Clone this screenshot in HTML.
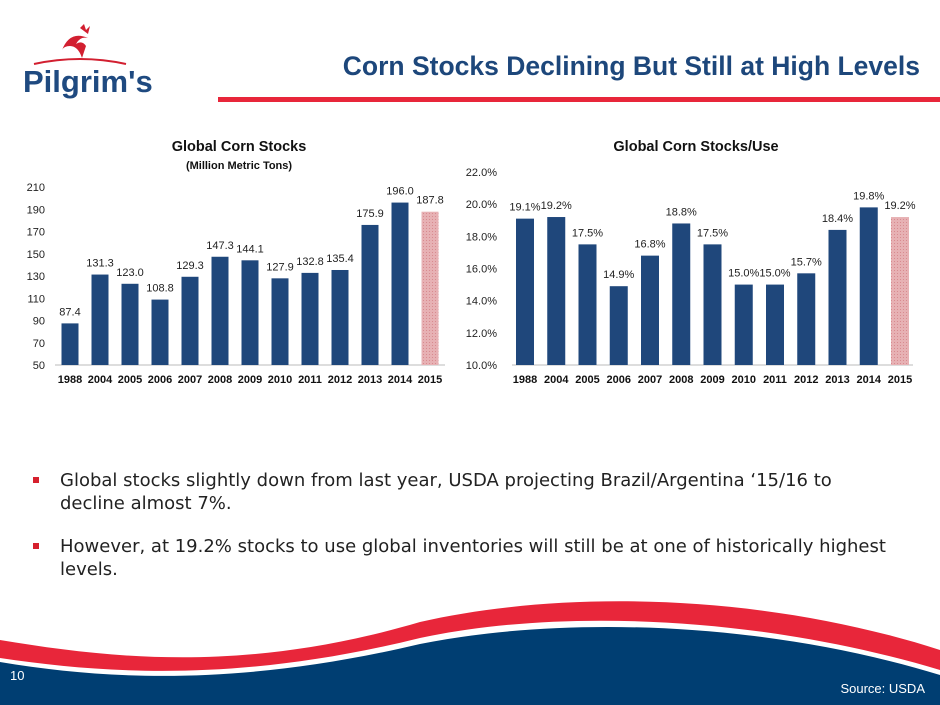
<!DOCTYPE html>
<html><head><meta charset="utf-8"><style>
html,body{margin:0;padding:0;background:#fff}
body{width:940px;height:705px;overflow:hidden;position:relative;font-family:"Liberation Sans",sans-serif}
svg{position:absolute;left:0;top:0}
.b{position:absolute;left:60px;width:870px;white-space:nowrap;font-family:"DejaVu Sans","Liberation Sans",sans-serif;font-size:18px;line-height:23px;color:#222}
.sq{position:absolute;left:-27px;top:8px;width:6px;height:6px;background:#d6202e}
</style></head><body>
<svg width="940" height="705">
 <defs>
  <pattern id="hatch" width="3" height="3" patternUnits="userSpaceOnUse"><rect width="3" height="3" fill="#e7b1b4"/><rect width="1" height="1" fill="#d88a8f"/></pattern>
 </defs>
 <g>
  <path d="M62,50 Q70,30 88,38 Q80,36 76,44 Q82,40 86,46 L82,58 Q78,46 70,46 Q64,46 62,50Z" fill="#d21f30"/>
  <path d="M80,28 L84,24 L86,30 L90,26 L88,34Z" fill="#d21f30"/>
  <path d="M34,64 Q80,54 126,64" stroke="#d21f30" stroke-width="2" fill="none"/>
  <text x="23" y="92" font-family="Liberation Sans,sans-serif" font-weight="bold" font-size="31" fill="#1f4a80">Pilgrim's</text>
 </g>
 <text x="920" y="75" text-anchor="end" font-weight="bold" font-size="26.5" fill="#1d477b">Corn Stocks Declining But Still at High Levels</text>
 <rect x="218" y="97" width="722" height="5" fill="#e8263a"/>
 <g id="c1"></g>
 <g id="c2"></g>
 <g>
  <path d="M0,640 C120,660 250,672 420,622 C560,590 760,592 940,650 L940,705 L0,705Z" fill="#e8263a"/>
  <path d="M0,658 C120,676 250,680 420,638 C560,608 760,616 940,670 L940,705 L0,705Z" fill="#fff"/>
  <path d="M0,662 C120,682 250,684 420,644 C560,616 760,620 940,675 L940,705 L0,705Z" fill="#003e72"/>
 </g>
 <text x="10" y="680" font-size="13" fill="#fff">10</text>
 <text x="925" y="693" text-anchor="end" font-size="13" fill="#fff">Source:  USDA</text>
</svg>
<div class="b" style="top:469px"><span class="sq"></span>Global stocks slightly down from last year, USDA projecting Brazil/Argentina ‘15/16 to<br>decline almost 7%.</div>
<div class="b" style="top:535px"><span class="sq"></span>However, at 19.2% stocks to use global inventories will still be at one of historically highest<br>levels.</div>
<script>
const years=["1988","2004","2005","2006","2007","2008","2009","2010","2011","2012","2013","2014","2015"];
const stocks=[87.4,131.3,123.0,108.8,129.3,147.3,144.1,127.9,132.8,135.4,175.9,196.0,187.8];
const stockLabels=["87.4","131.3","123.0","108.8","129.3","147.3","144.1","127.9","132.8","135.4","175.9","196.0","187.8"];
const stockTicks=[50,70,90,110,130,150,170,190,210];
const ratio=[19.1,19.2,17.5,14.9,16.8,18.8,17.5,15.0,15.0,15.7,18.4,19.8,19.2];
const ratioTicks=[10,12,14,16,18,20,22];
const NS="http://www.w3.org/2000/svg";
function mk(p,t,a,txt){const e=document.createElementNS(NS,t);for(const k in a)e.setAttribute(k,a[k]);if(txt!=null)e.textContent=txt;p.appendChild(e);return e;}
function chart(g,o){
 const y=v=>o.y0-(v-o.vmin)/(o.vmax-o.vmin)*(o.y0-o.y1);
 const x=i=>o.x0+i*o.step;
 let t=mk(g,'text',{x:o.tx,y:o.ty,'text-anchor':'middle','font-weight':'bold','font-size':14.5,fill:'#111'},o.title);
 
 
 if(o.sub){t=mk(g,'text',{x:o.tx,y:o.ty+18,'text-anchor':'middle','font-weight':'bold','font-size':11,fill:'#111'},o.sub);
 
 }
 o.ticks.forEach(v=>{const e=mk(g,'text',{x:o.lx,y:y(v)+4,'text-anchor':'end','font-size':11,fill:'#222'},o.fmt(v));
 
 });
 const ax=mk(g,'line',{x1:o.ax0,x2:o.ax1,y1:o.y0,y2:o.y0,stroke:'#bbb','stroke-width':1});
 
 
 o.vals.forEach((v,i)=>{
  const last=i===o.vals.length-1;
  const r=mk(g,'rect',{x:x(i)-o.bw/2,y:y(v),width:o.bw,height:o.y0-y(v),fill:last?'url(#hatch)':'#1f477b'});
  
  
  const l=mk(g,'text',{x:x(i),y:y(v)-8,'text-anchor':'middle','font-size':11,fill:'#222'},o.lab(v,i));
  
  
  const c=mk(g,'text',{x:x(i),y:o.y0+18,'text-anchor':'middle','font-size':11,'font-weight':'bold',fill:'#111'},years[i]);
  
  
 });
}
chart(document.getElementById('c1'),{vals:stocks,ticks:stockTicks,vmin:50,vmax:210,y0:365,y1:187,x0:70,step:30,bw:17,lx:45,ax0:55,ax1:445,tx:239,ty:151,title:'Global Corn Stocks',sub:'(Million Metric Tons)',fmt:v=>String(v),lab:(v,i)=>stockLabels[i]});
chart(document.getElementById('c2'),{vals:ratio,ticks:ratioTicks,vmin:10,vmax:22,y0:365,y1:172,x0:525,step:31.25,bw:18,lx:497,ax0:512,ax1:913,tx:696,ty:151,title:'Global Corn Stocks/Use',fmt:v=>v.toFixed(1)+'%',lab:v=>v.toFixed(1)+'%'});
</script>
</body></html>
